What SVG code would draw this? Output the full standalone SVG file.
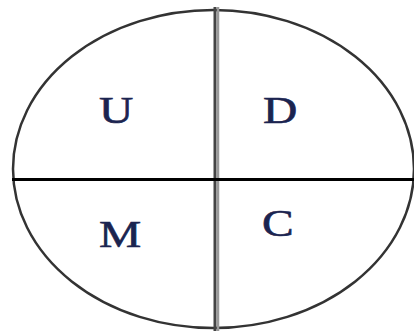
<svg xmlns="http://www.w3.org/2000/svg" width="414" height="331" viewBox="0 0 414 331">
<style>
.lbl{font-family:"Liberation Serif","Times New Roman",serif;font-size:38px;fill:#1b2450;stroke:#1b2450;stroke-width:0.6}
</style>
<rect width="414" height="331" fill="#fff"/>
<g id="shape">
<ellipse cx="213.5" cy="169" rx="200.5" ry="159" fill="none" stroke="#333" stroke-width="2.5"/>
</g>
<g id="connectors">
<line x1="215" y1="7" x2="215" y2="331" stroke="#444" stroke-width="3"/>
<line x1="218" y1="7" x2="218" y2="331" stroke="#999" stroke-width="2.5"/>
<line x1="12" y1="179.5" x2="414" y2="179.5" stroke="#000" stroke-width="3"/>
</g>
<g id="U"><text class="lbl" transform="translate(99,123) scale(1.25,1)">U</text></g>
<g id="D"><text class="lbl" transform="translate(263,123) scale(1.25,1)">D</text></g>
<g id="M"><text class="lbl" transform="translate(99,247) scale(1.25,1)">M</text></g>
<g id="C"><text class="lbl" transform="translate(262,236) scale(1.25,1)">C</text></g>
</svg>
